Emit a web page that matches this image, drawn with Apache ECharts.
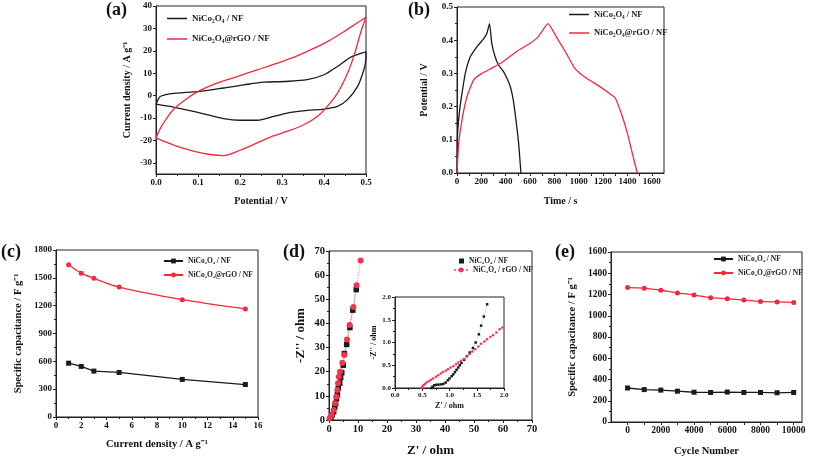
<!DOCTYPE html>
<html>
<head>
<meta charset="UTF-8">
<title>NiCo2O4 electrochemistry</title>
<script src="https://cdn.jsdelivr.net/npm/echarts/dist/echarts.min.js"></script>
<style>
  html, body { margin: 0; padding: 0; background: #fff; }
  #main { width: 813px; height: 458px; }
</style>
</head>
<body>
<div id="main"></div>
<script>
// (a) CV loops at 50 mV/s: [potential V, current density A/g]
var cvBlack = [[0,-4.1],[0.004,-2.2],[0.01,-0.4],[0.033,0.8],[0.07,1.4],[0.105,1.9],[0.161,3.4],[0.209,4.8],[0.257,6.0],[0.305,6.3],[0.36,7.1],[0.40,9.3],[0.432,13],[0.464,17.2],[0.49,19.0],[0.5,19.5],
  [0.499,15],[0.494,11],[0.48,4.1],[0.456,-1.8],[0.432,-4.8],[0.4,-6],[0.36,-6.6],[0.32,-7.5],[0.28,-9.3],[0.241,-11],[0.2,-11],[0.161,-10.3],[0.121,-8.5],[0.081,-6.7],[0.041,-5.1],[0,-3.8]];
var cvRed = [[0,-18.9],[0.008,-15.5],[0.018,-12.2],[0.041,-6.3],[0.073,-1.4],[0.105,2.3],[0.145,5.6],[0.193,8.5],[0.241,11.5],[0.289,14.5],[0.329,17.2],[0.368,20.4],[0.408,24.1],[0.448,28.6],[0.48,32.6],[0.5,35],
  [0.488,28.6],[0.472,18.2],[0.456,10],[0.432,1.1],[0.408,-4.8],[0.384,-9.3],[0.352,-13],[0.313,-15.9],[0.281,-17.9],[0.241,-21.1],[0.2,-24.4],[0.161,-26.8],[0.129,-26.3],[0.089,-24.8],[0.049,-22.6],[0.018,-20.3],[0,-18.9]];

// (b) charge / discharge: [time s, potential V]
var gcdBlack = [[0,0],[5,0.12],[22,0.19],[41,0.24],[68,0.30],[109,0.35],[163,0.38],[218,0.404],[245,0.42],[267,0.45],[286,0.39],[313,0.35],[340,0.326],[381,0.306],[413,0.283],[441,0.256],[462,0.22],[484,0.16],[506,0.09],[525,0]];
var gcdRed = [[0,0],[14,0.09],[41,0.16],[82,0.23],[136,0.28],[204,0.30],[286,0.316],[381,0.336],[490,0.366],[598,0.39],[666,0.41],[748,0.45],[816,0.41],[898,0.36],[966,0.316],[1061,0.286],[1170,0.261],[1251,0.24],[1300,0.226],[1358,0.17],[1399,0.12],[1440,0.059],[1480,0]];

// (c) rate capability
var rateX = [1, 2, 3, 5, 10, 15];
var rateBlack = [580, 545, 495, 480, 405, 350];
var rateRed = [1640, 1550, 1495, 1400, 1265, 1165];

// (d) Nyquist plots: [Z', -Z'']
var eisBlack = [[0.6,0.7],[1.1,2.1],[1.6,3.4],[2.0,5.5],[2.3,6.9],[2.6,9],[2.9,10.6],[3.2,13.1],[3.7,15.2],[4.0,17.5],[4.4,19.6],[4.9,22.7],[5.3,27.5],[6.1,31.3],[7.2,38.3],[8.2,45.5],[9.4,54]];
var eisRed = [[0.2,0.7],[0.9,2.1],[1.6,4.1],[2.1,6.9],[2.5,9.6],[2.9,12.4],[3.1,15.2],[3.4,17.9],[3.8,20],[4.6,23.7],[5.3,26.9],[6.2,33.3],[7.1,39.3],[8.4,46.8],[9.5,55.8],[10.9,66.1]];
var insetBlack = [[0.67,0],[0.69,0.03],[0.72,0.06],[0.76,0.07],[0.8,0.075],[0.85,0.08],[0.89,0.09],[0.93,0.12],[0.97,0.17],[1.0,0.21],[1.04,0.26],[1.07,0.3],[1.1,0.35],[1.13,0.4],[1.16,0.45],[1.19,0.5],[1.22,0.55],[1.27,0.62],[1.32,0.7],[1.37,0.78],[1.43,0.88],[1.48,1.0],[1.54,1.18],[1.58,1.37],[1.63,1.57],[1.69,1.84]];
var insetRed = [[0.49,0],[0.5,0.03],[0.52,0.06],[0.55,0.09],[0.58,0.12],[0.62,0.15],[0.66,0.18],[0.70,0.21],[0.75,0.25],[0.79,0.28],[0.84,0.32],[0.88,0.35],[0.93,0.38],[0.97,0.41],[1.02,0.45],[1.07,0.48],[1.12,0.52],[1.16,0.56],[1.21,0.6],[1.26,0.64],[1.32,0.7],[1.37,0.75],[1.42,0.8],[1.47,0.85],[1.53,0.91],[1.58,0.97],[1.64,1.02],[1.69,1.07],[1.75,1.12],[1.8,1.16],[1.86,1.22],[1.92,1.29],[1.97,1.33]];

// (e) cycling stability
var cycles = [0, 1000, 2000, 3000, 4000, 5000, 6000, 7000, 8000, 9000, 10000];
var cycBlack = [320, 305, 300, 290, 280, 278, 282, 278, 278, 275, 278];
var cycRed = [1265, 1260, 1240, 1215, 1195, 1170, 1160, 1148, 1135, 1130, 1125];

var legendNames = {
  a1: 'NiCo₂O₄ / NF', a2: 'NiCo₂O₄@rGO / NF',
  b1: 'NiCo₂O₄ / NF', b2: 'NiCo₂O₄@rGO / NF',
  c1: 'NiCo₂O₄ / NF', c2: 'NiCo₂O₄@rGO / NF',
  d1: 'NiC₂O₄ / NF', d2: 'NiC₂O₄ / rGO / NF',
  e1: 'NiCo₂O₄ / NF', e2: 'NiCo₂O₄@rGO / NF'
};

var FONT = 'Liberation Serif';
var BLACK = '#1a1a1a';
var RED = '#f5283c';

var chart = echarts.init(document.getElementById('main'));

function toPairs(xs, ys) {
  return xs.map(function (x, i) { return [x, ys[i]]; });
}

function plain(v) { return String(v); }
function fix1(v) { return v.toFixed(1); }

function axis(grid, o) {
  var a = {
    type: 'value', gridIndex: grid, min: o.min, max: o.max, interval: o.interval,
    name: o.name || '', nameLocation: 'middle', nameGap: o.gap || 25,
    nameTextStyle: { fontFamily: FONT, fontWeight: 'bold', fontSize: o.nameSize || 10, color: '#111' },
    axisLine: { show: true, onZero: false, lineStyle: { color: '#222', width: 1 } },
    axisTick: { show: true, length: 3, lineStyle: { color: '#222' } },
    minorTick: { show: o.minor !== false, splitNumber: 2, length: 2, lineStyle: { color: '#222' } },
    splitLine: { show: false },
    axisLabel: { fontFamily: FONT, fontWeight: 'bold', fontSize: o.size || 9, color: '#111', margin: 4,
      formatter: o.fmt || plain, showMaxLabel: true, showMinLabel: true },
    scale: true
  };
  if (o.custom) {
    a.axisLabel.customValues = o.custom;
    a.axisTick.customValues = o.ticks || o.custom;
    a.minorTick.show = false;
  }
  return a;
}

function legend(ids, left, top, o) {
  o = o || {};
  var l = {
    data: ids, left: left, top: top, orient: 'vertical',
    itemWidth: o.w || 20, itemHeight: o.h || 7,
    itemGap: o.gap || 4, selectedMode: false, padding: 0,
    textStyle: { fontFamily: FONT, fontWeight: 'bold', fontSize: o.size || 9, color: o.color || BLACK },
    formatter: function (n) { return legendNames[n]; }
  };
  if (o.icon) l.icon = o.icon;
  return l;
}

var gridBox = { show: true, borderColor: '#222', borderWidth: 1, containLabel: false };

var option = {
  backgroundColor: '#fff',
  animation: false,
  grid: [
    Object.assign({ left: 156, top: 6, width: 210, height: 168 }, gridBox),
    Object.assign({ left: 457, top: 7, width: 207, height: 166 }, gridBox),
    Object.assign({ left: 56, top: 250, width: 202, height: 167 }, gridBox),
    Object.assign({ left: 329, top: 251, width: 203, height: 169 }, gridBox),
    Object.assign({ left: 395, top: 297, width: 109, height: 91, backgroundColor: '#fff' }, gridBox),
    Object.assign({ left: 611, top: 252, width: 191, height: 170 }, gridBox)
  ],
  xAxis: [
    axis(0, { min: 0, max: 0.5, interval: 0.1, fmt: fix1, name: 'Potential / V', gap: 22 }),
    axis(1, { min: 0, max: 1700, name: 'Time / s', gap: 23,
      custom: [0, 200, 400, 600, 800, 1000, 1200, 1400, 1600],
      ticks: [0, 100, 200, 300, 400, 500, 600, 700, 800, 900, 1000, 1100, 1200, 1300, 1400, 1500, 1600] }),
    axis(2, { min: 0, max: 16, interval: 2, name: 'Current density / A g⁻¹', gap: 22, nameSize: 10.5 }),
    axis(3, { min: 0, max: 70, interval: 10, name: "Z' / ohm", gap: 24, size: 10.5, nameSize: 13 }),
    axis(4, { min: 0, max: 2, interval: 0.5, fmt: fix1, name: "Z' / ohm", gap: 14, size: 7, nameSize: 8 }),
    axis(5, { min: -1000, max: 10500, name: 'Cycle Number', gap: 24, size: 9.5, nameSize: 10.5,
      custom: [0, 2000, 4000, 6000, 8000, 10000],
      ticks: [0, 1000, 2000, 3000, 4000, 5000, 6000, 7000, 8000, 9000, 10000] })
  ],
  yAxis: [
    axis(0, { min: -35, max: 40, name: 'Current density / A g⁻¹', gap: 24,
      custom: [-30, -20, -10, 0, 10, 20, 30, 40] }),
    axis(1, { min: 0, max: 0.5, interval: 0.1, fmt: fix1, name: 'Potential / V', gap: 28 }),
    axis(2, { min: 0, max: 1800, interval: 300, name: 'Specific capacitance / F g⁻¹', gap: 32, nameSize: 10.5 }),
    axis(3, { min: 0, max: 70, interval: 10, name: "-Z'' / ohm", gap: 22, size: 10.5, nameSize: 13 }),
    axis(4, { min: 0, max: 2, interval: 0.5, fmt: fix1, name: "-Z'' / ohm", gap: 15, size: 7, nameSize: 8 }),
    axis(5, { min: 0, max: 1600, interval: 200, name: 'Specific capacitance / F g⁻¹', gap: 33, size: 9.5, nameSize: 10.5 })
  ],
  legend: [
    legend(['a1', 'a2'], 167, 14, { icon: 'rect', h: 1.5, gap: 11.5 }),
    legend(['b1', 'b2'], 569, 10, { icon: 'rect', h: 1.5, gap: 9.5, size: 8.5 }),
    legend(['c1', 'c2'], 163, 257, { w: 19, h: 6, gap: 6, size: 7.5 }),
    legend(['d1'], 459, 257, { icon: 'rect', w: 5, h: 5, size: 7.5 }),
    legend(['d2'], 453, 266, { w: 14, h: 6, size: 7.5 }),
    legend(['e1', 'e2'], 713, 255, { w: 19, h: 6, gap: 6, size: 7.5 })
  ],
  graphic: [
    { type: 'text', left: 106, top: 1, style: { text: '(a)', font: 'bold 18px ' + FONT, fill: '#111' } },
    { type: 'text', left: 408, top: 1, style: { text: '(b)', font: 'bold 18px ' + FONT, fill: '#111' } },
    { type: 'text', left: 1, top: 243, style: { text: '(c)', font: 'bold 18px ' + FONT, fill: '#111' } },
    { type: 'text', left: 283, top: 243, style: { text: '(d)', font: 'bold 18px ' + FONT, fill: '#111' } },
    { type: 'text', left: 555, top: 243, style: { text: '(e)', font: 'bold 18px ' + FONT, fill: '#111' } }
  ],
  series: [
    { name: 'a1', type: 'line', xAxisIndex: 0, yAxisIndex: 0, data: cvBlack, symbol: 'none', smooth: 0.3,
      lineStyle: { color: BLACK, width: 1.3 }, itemStyle: { color: BLACK },
      markPoint: { symbol: 'none', label: { show: true, formatter: '50 mV s⁻¹', fontFamily: FONT, fontWeight: 'bold', fontSize: 9, color: '#111' },
        data: [{ coord: [0.375, -30.5] }] } },
    { name: 'a2', type: 'line', xAxisIndex: 0, yAxisIndex: 0, data: cvRed, symbol: 'none', smooth: 0.3,
      lineStyle: { color: RED, width: 1.3 }, itemStyle: { color: RED } },
    { name: 'b1', type: 'line', xAxisIndex: 1, yAxisIndex: 1, data: gcdBlack, symbol: 'none', smooth: 0.15,
      lineStyle: { color: BLACK, width: 1.3 }, itemStyle: { color: BLACK } },
    { name: 'b2', type: 'line', xAxisIndex: 1, yAxisIndex: 1, data: gcdRed, symbol: 'none', smooth: 0.15,
      lineStyle: { color: RED, width: 1.3 }, itemStyle: { color: RED } },
    { name: 'c1', type: 'line', xAxisIndex: 2, yAxisIndex: 2, data: toPairs(rateX, rateBlack), symbol: 'rect', symbolSize: 5,
      lineStyle: { color: BLACK, width: 1.3 }, itemStyle: { color: BLACK },
      markPoint: { symbol: 'none', label: { show: true, formatter: '61%', fontFamily: FONT, fontWeight: 'bold', fontSize: 9, color: '#111' },
        data: [{ coord: [8.1, 280] }] } },
    { name: 'c2', type: 'line', xAxisIndex: 2, yAxisIndex: 2, data: toPairs(rateX, rateRed), symbol: 'circle', symbolSize: 5, smooth: 0.3,
      lineStyle: { color: RED, width: 1.3 }, itemStyle: { color: RED },
      markPoint: { symbol: 'none', label: { show: true, formatter: '71%', fontFamily: FONT, fontWeight: 'bold', fontSize: 9, color: RED },
        data: [{ coord: [8.1, 1207] }] } },
    { name: 'd1', type: 'line', xAxisIndex: 3, yAxisIndex: 3, data: eisBlack, symbol: 'rect', symbolSize: 5.5,
      lineStyle: { color: '#777', width: 0.8, type: 'dotted' }, itemStyle: { color: BLACK } },
    { name: 'd2', type: 'line', xAxisIndex: 3, yAxisIndex: 3, data: eisRed, symbol: 'circle', symbolSize: 6,
      lineStyle: { color: '#f27088', width: 0.8, type: 'dotted' }, itemStyle: { color: '#f2344f' } },
    { name: 'd1i', type: 'line', xAxisIndex: 4, yAxisIndex: 4, data: insetBlack, symbol: 'rect', symbolSize: 2.5,
      lineStyle: { color: '#999', width: 0.6, type: 'dotted' }, itemStyle: { color: BLACK } },
    { name: 'd2i', type: 'line', xAxisIndex: 4, yAxisIndex: 4, data: insetRed, symbol: 'circle', symbolSize: 2.5,
      lineStyle: { color: '#f27088', width: 0.6, type: 'dotted' }, itemStyle: { color: '#f2344f' } },
    { name: 'e1', type: 'line', xAxisIndex: 5, yAxisIndex: 5, data: toPairs(cycles, cycBlack), symbol: 'rect', symbolSize: 5,
      lineStyle: { color: BLACK, width: 1.3 }, itemStyle: { color: BLACK },
      markPoint: { symbol: 'none', label: { show: true, formatter: '88%', fontFamily: FONT, fontWeight: 'bold', fontSize: 9, color: '#111' },
        data: [{ coord: [5600, 179] }] } },
    { name: 'e2', type: 'line', xAxisIndex: 5, yAxisIndex: 5, data: toPairs(cycles, cycRed), symbol: 'circle', symbolSize: 5, smooth: 0.3,
      lineStyle: { color: RED, width: 1.3 }, itemStyle: { color: RED },
      markPoint: { symbol: 'none', label: { show: true, formatter: '89%', fontFamily: FONT, fontWeight: 'bold', fontSize: 9, color: RED },
        data: [{ coord: [5700, 1073] }] } }
  ]
};

chart.setOption(option);
</script>
</body>
</html>
